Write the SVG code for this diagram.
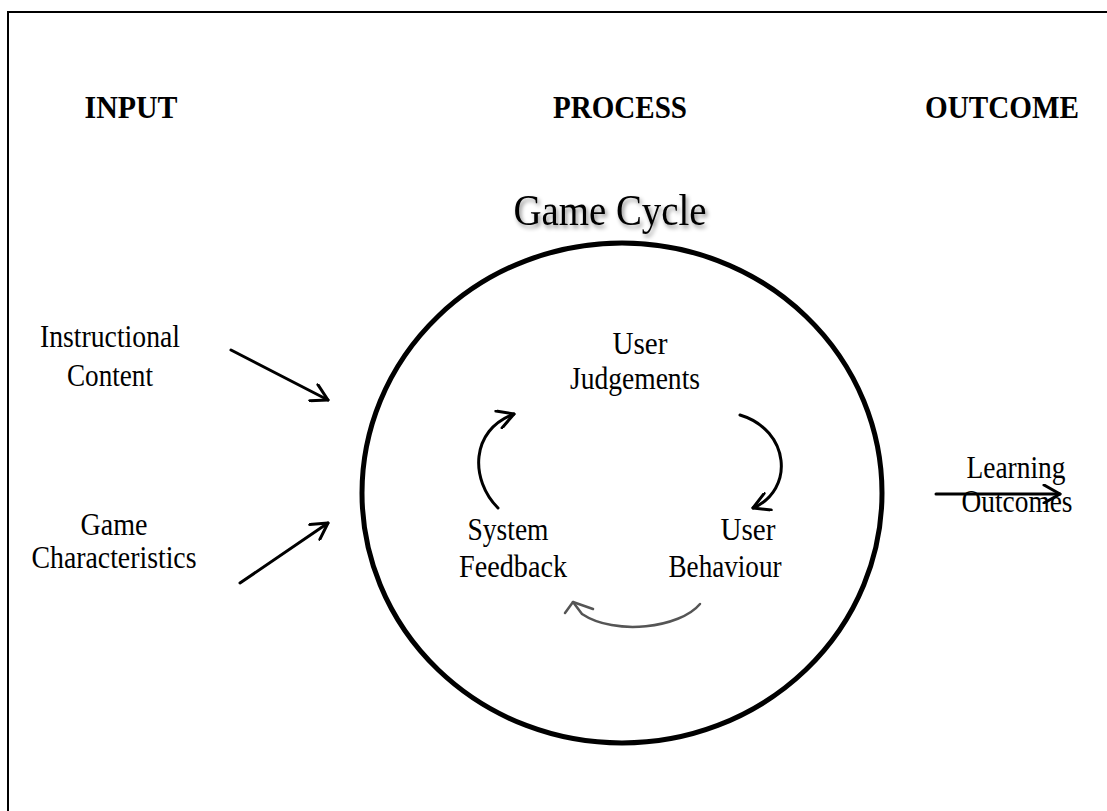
<svg xmlns="http://www.w3.org/2000/svg" width="1107" height="811" viewBox="0 0 1107 811">
<style>
.t{font-family:"Liberation Serif","Times New Roman",serif;font-size:32px;fill:#000}
.h{font-family:"Liberation Serif","Times New Roman",serif;font-size:31px;font-weight:bold;fill:#000}
.c{fill:none;stroke:#000;stroke-width:3;stroke-linecap:round}
</style>
<defs>
<marker id="open" viewBox="0 0 20 20" refX="18" refY="10" markerWidth="20" markerHeight="20" markerUnits="userSpaceOnUse" orient="auto">
<path d="M2,1 L18,10 L2,19" fill="none" stroke="#000" stroke-width="3" stroke-linecap="round" stroke-linejoin="round"/>
</marker>
<filter id="sh" x="-10%" y="-20%" width="130%" height="160%">
<feDropShadow dx="2" dy="3" stdDeviation="2" flood-color="#000" flood-opacity="0.45"/>
</filter>
</defs>
<rect width="1107" height="811" fill="#fff"/>
<g id="frame">
<line x1="8" y1="12" x2="1107" y2="12" stroke="#000" stroke-width="2"/>
<line x1="8" y1="11" x2="8" y2="811" stroke="#000" stroke-width="2"/>
</g>
<g id="headers">
<text class="h" x="131" y="118" text-anchor="middle" textLength="93" lengthAdjust="spacingAndGlyphs">INPUT</text>
<text class="h" x="620" y="118" text-anchor="middle" textLength="134" lengthAdjust="spacingAndGlyphs">PROCESS</text>
<text class="h" x="1002" y="118" text-anchor="middle" textLength="154" lengthAdjust="spacingAndGlyphs">OUTCOME</text>
</g>
<g id="game-cycle">
<text x="610" y="225" text-anchor="middle" font-family="Liberation Serif, Times New Roman, serif" font-size="44" filter="url(#sh)" textLength="193" lengthAdjust="spacingAndGlyphs">Game Cycle</text>
<ellipse cx="622" cy="493" rx="260" ry="250" fill="none" stroke="#000" stroke-width="5"/>
</g>
<g id="instructional-content">
<text class="t" x="110" y="347" text-anchor="middle" textLength="140" lengthAdjust="spacingAndGlyphs">Instructional</text>
<text class="t" x="110" y="386" text-anchor="middle" textLength="86" lengthAdjust="spacingAndGlyphs">Content</text>
</g>
<g id="game-characteristics">
<text class="t" x="114" y="535" text-anchor="middle" textLength="67" lengthAdjust="spacingAndGlyphs">Game</text>
<text class="t" x="114" y="568" text-anchor="middle" textLength="165" lengthAdjust="spacingAndGlyphs">Characteristics</text>
</g>
<g id="user-judgements">
<text class="t" x="640" y="354" text-anchor="middle" textLength="55" lengthAdjust="spacingAndGlyphs">User</text>
<text class="t" x="635" y="389" text-anchor="middle" textLength="130" lengthAdjust="spacingAndGlyphs">Judgements</text>
</g>
<g id="system-feedback">
<text class="t" x="508" y="540" text-anchor="middle" textLength="81" lengthAdjust="spacingAndGlyphs">System</text>
<text class="t" x="513" y="577" text-anchor="middle" textLength="108" lengthAdjust="spacingAndGlyphs">Feedback</text>
</g>
<g id="user-behaviour">
<text class="t" x="748" y="540" text-anchor="middle" textLength="55" lengthAdjust="spacingAndGlyphs">User</text>
<text class="t" x="725" y="577" text-anchor="middle" textLength="113" lengthAdjust="spacingAndGlyphs">Behaviour</text>
</g>
<g id="learning-outcomes">
<text class="t" x="1016" y="478" text-anchor="middle" textLength="99" lengthAdjust="spacingAndGlyphs">Learning</text>
<text class="t" x="1017" y="512" text-anchor="middle" textLength="111" lengthAdjust="spacingAndGlyphs">Outcomes</text>
</g>
<g id="connectors">
<line class="c" x1="231" y1="350" x2="328" y2="400" marker-end="url(#open)"/>
<line class="c" x1="240" y1="583" x2="328" y2="523" marker-end="url(#open)"/>
<line class="c" x1="936" y1="494" x2="1060" y2="494" marker-end="url(#open)"/>
<path class="c" d="M498,508 C470,480 470,430 514,414" marker-end="url(#open)"/>
<path class="c" d="M740,415 C790,430 795,490 753,508" marker-end="url(#open)"/>
<path d="M700,604 C680,628 615,636 582,614 L573,602" fill="none" stroke="#555" stroke-width="2.5" stroke-linecap="round" stroke-linejoin="round"/>
<path d="M565,613 L573,602 L593,609" fill="none" stroke="#555" stroke-width="2.5" stroke-linecap="round" stroke-linejoin="round"/>
</g>
</svg>
